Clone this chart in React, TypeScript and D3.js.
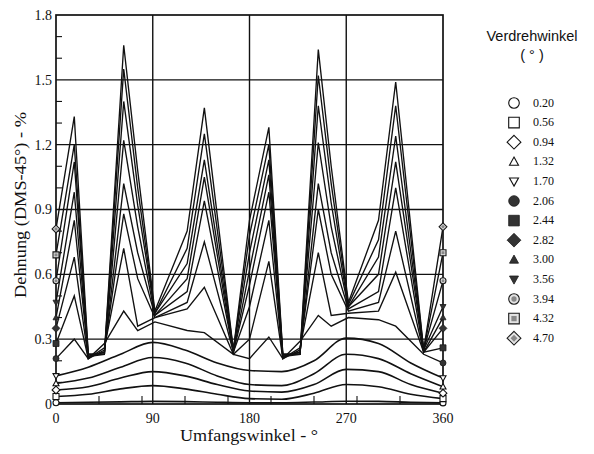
import React from 'react';
import * as d3 from 'd3';

// ---- data ----
const angles = [0, 17, 30, 45, 63, 76, 92, 122, 138, 165, 180, 198, 211, 227, 244, 256, 272, 300, 316, 342, 360];
const smoothAngles = [0, 30, 60, 90, 120, 150, 180, 210, 240, 270, 300, 330, 360];

const s020 = [0.006, 0.008, 0.01, 0.012, 0.011, 0.008, 0.006, 0.006, 0.009, 0.013, 0.012, 0.008, 0.005];
const s056 = [0.035, 0.045, 0.07, 0.085, 0.07, 0.045, 0.025, 0.022, 0.05, 0.09, 0.08, 0.045, 0.025];
const s094 = [0.065, 0.08, 0.12, 0.15, 0.13, 0.09, 0.06, 0.055, 0.09, 0.16, 0.15, 0.09, 0.05];
const s132 = [0.095, 0.12, 0.17, 0.215, 0.19, 0.13, 0.09, 0.085, 0.14, 0.23, 0.21, 0.14, 0.08];
const s170 = [0.13, 0.17, 0.23, 0.285, 0.25, 0.19, 0.155, 0.15, 0.2, 0.305, 0.28, 0.19, 0.12];

const s206 = [0.21, 0.30, 0.21, 0.28, 0.43, 0.34, 0.38, 0.34, 0.33, 0.23, 0.21, 0.31, 0.21, 0.29, 0.41, 0.36, 0.40, 0.39, 0.36, 0.23, 0.19];
const s244 = [0.28, 0.50, 0.21, 0.26, 0.72, 0.36, 0.40, 0.44, 0.54, 0.23, 0.30, 0.66, 0.21, 0.26, 0.70, 0.41, 0.42, 0.43, 0.61, 0.24, 0.26];
const s282 = [0.35, 0.68, 0.21, 0.25, 0.88, 0.58, 0.40, 0.47, 0.75, 0.24, 0.45, 0.85, 0.21, 0.25, 0.90, 0.60, 0.43, 0.47, 0.80, 0.24, 0.35];
const s300 = [0.40, 0.85, 0.22, 0.24, 1.02, 0.70, 0.41, 0.52, 0.94, 0.24, 0.55, 0.98, 0.22, 0.24, 1.02, 0.70, 0.44, 0.52, 1.00, 0.24, 0.40];
const s356 = [0.47, 0.98, 0.22, 0.24, 1.22, 0.82, 0.41, 0.58, 1.05, 0.24, 0.62, 1.06, 0.22, 0.24, 1.21, 0.82, 0.45, 0.60, 1.12, 0.25, 0.45];
const s394 = [0.57, 1.12, 0.22, 0.23, 1.40, 0.92, 0.42, 0.65, 1.13, 0.25, 0.70, 1.13, 0.22, 0.23, 1.38, 0.93, 0.45, 0.68, 1.24, 0.25, 0.57];
const s432 = [0.69, 1.20, 0.23, 0.23, 1.55, 1.00, 0.42, 0.72, 1.25, 0.25, 0.78, 1.20, 0.23, 0.23, 1.52, 1.02, 0.46, 0.76, 1.38, 0.25, 0.70];
const s470 = [0.81, 1.33, 0.23, 0.23, 1.66, 1.08, 0.43, 0.80, 1.37, 0.25, 0.85, 1.28, 0.23, 0.23, 1.64, 1.10, 0.47, 0.85, 1.49, 0.25, 0.82];

const twistLabels = ['0.20', '0.56', '0.94', '1.32', '1.70', '2.06', '2.44', '2.82', '3.00', '3.56', '3.94', '4.32', '4.70'];
const markerShapes = ['circle', 'square', 'diamond', 'triUp', 'triDown', 'circle', 'square', 'diamond', 'triUp', 'triDown', 'circle', 'square', 'diamond'];
const markerStyles = ['open', 'open', 'open', 'open', 'open', 'filled', 'filled', 'filled', 'filled', 'filled', 'pattern', 'pattern', 'pattern'];

const smoothSeries = [s020, s056, s094, s132, s170];
const spikySeries = [s206, s244, s282, s300, s356, s394, s432, s470];

const xTicks = [0, 90, 180, 270, 360];
const yTicks = [0, 0.3, 0.6, 0.9, 1.2, 1.5, 1.8];
const xMinorTicks = [40, 80, 120, 160, 200, 240, 280, 320];
const yMinorTicks = [0.1, 0.2, 0.4, 0.5, 0.7, 0.8, 1.0, 1.1, 1.3, 1.4, 1.6, 1.7];

// ---- layout ----
const W = 594, H = 454;
const x = d3.scaleLinear().domain([0, 360]).range([56, 443]);
const y = d3.scaleLinear().domain([0, 1.8]).range([404, 15]);
const serif = '"Liberation Serif", "DejaVu Serif", Times, serif';
const sans = '"Liberation Sans", Arial, sans-serif';

function shapePath(shape: string, r: number): string {
  if (shape === 'circle') return d3.symbol().type(d3.symbolCircle).size(Math.PI * r * r)() as string;
  if (shape === 'square') return `M${-r},${-r}h${2 * r}v${2 * r}h${-2 * r}Z`;
  if (shape === 'diamond') { const d = r * 1.3; return `M0,${-d}L${d},0L0,${d}L${-d},0Z`; }
  if (shape === 'triUp') return `M0,${-r * 1.05}L${r},${r * 0.75}L${-r},${r * 0.75}Z`;
  return `M0,${r * 1.05}L${r},${-r * 0.75}L${-r},${-r * 0.75}Z`;
}

function Marker({ shape, style, cx, cy, r }: { shape: string; style: string; cx: number; cy: number; r: number }) {
  const p = shapePath(shape, r);
  if (style === 'filled') {
    return <path d={p} transform={`translate(${cx},${cy})`} fill="#333" stroke="#1a1a1a" strokeWidth={0.8} />;
  }
  if (style === 'pattern') {
    return (
      <g transform={`translate(${cx},${cy})`}>
        <path d={p} fill="#e4e4e4" stroke="#1a1a1a" strokeWidth={1.1} />
        <path d={shapePath(shape, r * 0.5)} fill="#888" stroke="none" />
      </g>
    );
  }
  return <path d={p} transform={`translate(${cx},${cy})`} fill="#fff" stroke="#111" strokeWidth={1.1} />;
}

export default function App() {
  const spikyLine = d3.line<number>().x((_, i) => x(angles[i])).y((v) => y(v)).curve(d3.curveLinear);
  const smoothLine = d3.line<number>().x((_, i) => x(smoothAngles[i])).y((v) => y(v)).curve(d3.curveMonotoneX);

  const allSeries = [...smoothSeries, ...spikySeries];

  return (
    <svg width={W} height={H} style={{ position: 'absolute', left: 0, top: 0, background: '#fff' }}>
      <rect x={0} y={0} width={W} height={H} fill="#fff" />
      {/* grid */}
      {yTicks.slice(1, -1).map((t) => (
        <line key={'gy' + t} x1={x(0)} x2={x(360)} y1={y(t)} y2={y(t)} stroke="#111" strokeWidth={1.4} />
      ))}
      {xTicks.slice(1, -1).map((t) => (
        <line key={'gx' + t} x1={x(t)} x2={x(t)} y1={y(0)} y2={y(1.8)} stroke="#111" strokeWidth={1.4} />
      ))}
      {/* minor ticks */}
      {yMinorTicks.map((t) => (
        <line key={'my' + t} x1={x(0)} x2={x(0) + 6} y1={y(t)} y2={y(t)} stroke="#111" strokeWidth={1.1} />
      ))}
      {xMinorTicks.map((t) => (
        <line key={'mx' + t} x1={x(t)} x2={x(t)} y1={y(0)} y2={y(0) - 8} stroke="#111" strokeWidth={1.1} />
      ))}
      {/* data lines */}
      {smoothSeries.map((s, i) => (
        <path key={'sm' + i} d={smoothLine(s) as string} fill="none" stroke="#111" strokeWidth={1.6} />
      ))}
      {spikySeries.map((s, i) => (
        <path key={'sp' + i} d={spikyLine(s) as string} fill="none" stroke="#111" strokeWidth={1.35} strokeLinejoin="miter" />
      ))}
      {/* frame */}
      <rect x={x(0)} y={y(1.8)} width={x(360) - x(0)} height={y(0) - y(1.8)} fill="none" stroke="#111" strokeWidth={1.7} />
      {/* end markers */}
      {allSeries.map((s, i) => (
        <g key={'mk' + i}>
          <Marker shape={markerShapes[i]} style={markerStyles[i]} cx={x(0)} cy={y(s[0])} r={3} />
          <Marker shape={markerShapes[i]} style={markerStyles[i]} cx={x(360)} cy={y(s[s.length - 1])} r={3} />
        </g>
      ))}
      {/* tick labels */}
      {yTicks.map((t) => (
        <text key={'ty' + t} x={52} y={y(t)} dy="0.35em" textAnchor="end" fontFamily={serif} fontSize={14} fill="#111">
          {t === 0 ? '0' : t.toFixed(1)}
        </text>
      ))}
      {xTicks.map((t) => (
        <text key={'tx' + t} x={x(t)} y={423} textAnchor="middle" fontFamily={serif} fontSize={14} fill="#111">
          {t}
        </text>
      ))}
      {/* axis titles */}
      <text x={249} y={441} textAnchor="middle" fontFamily={serif} fontSize={17} fill="#111" textLength={138} lengthAdjust="spacingAndGlyphs">
        Umfangswinkel - °
      </text>
      <text transform="translate(26,205) rotate(-90)" textAnchor="middle" fontFamily={serif} fontSize={17} fill="#111" textLength={186} lengthAdjust="spacingAndGlyphs">
        Dehnung (DMS-45°) - %
      </text>
      {/* legend */}
      <text x={532} y={41} textAnchor="middle" fontFamily={sans} fontSize={14.5} fill="#111">Verdrehwinkel</text>
      <text x={532} y={60} textAnchor="middle" fontFamily={sans} fontSize={14.5} fill="#111">( ° )</text>
      {twistLabels.map((lab, i) => {
        const cy = 103 + i * 19.6;
        return (
          <g key={'lg' + i}>
            <Marker shape={markerShapes[i]} style={markerStyles[i]} cx={514} cy={cy} r={markerShapes[i].startsWith('tri') ? 4.5 : 5.3} />
            <text x={533} y={cy} dy="0.3em" fontFamily={serif} fontSize={12} fill="#111">{lab}</text>
          </g>
        );
      })}
    </svg>
  );
}
